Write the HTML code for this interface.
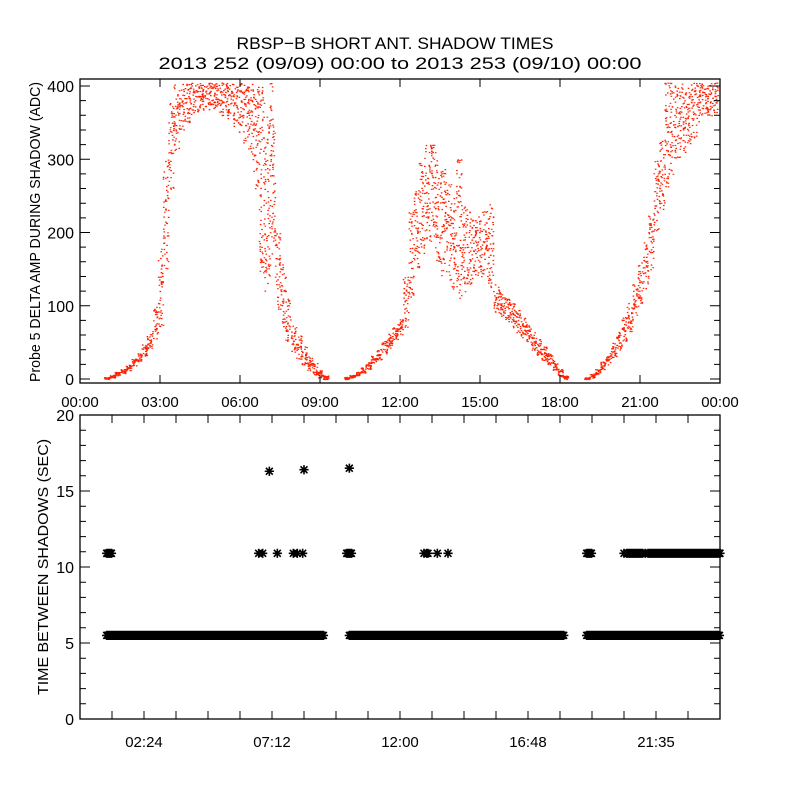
<!DOCTYPE html>
<html><head><meta charset="utf-8"><style>
html,body{margin:0;padding:0;background:#fff;}
svg{display:block;font-family:"Liberation Sans",sans-serif;}
</style></head><body>
<svg id="c" width="800" height="800" viewBox="0 0 800 800">
<rect width="800" height="800" fill="#fff"/>
<text x="395" y="49" font-size="17" text-anchor="middle" textLength="317" lengthAdjust="spacingAndGlyphs">RBSP−B SHORT ANT. SHADOW TIMES</text>
<text x="400" y="69" font-size="17" text-anchor="middle" textLength="483" lengthAdjust="spacingAndGlyphs">2013 252 (09/09) 00:00 to 2013 253 (09/10) 00:00</text>
<text transform="translate(40,232) rotate(-90)" font-size="15" text-anchor="middle" textLength="300" lengthAdjust="spacingAndGlyphs">Probe 5 DELTA AMP DURING SHADOW (ADC)</text>
<text transform="translate(48,567) rotate(-90)" font-size="15" text-anchor="middle" textLength="256" lengthAdjust="spacingAndGlyphs">TIME BETWEEN SHADOWS (SEC)</text>
<g id="topPlot"></g>
<g id="botPlot"></g>
</svg>
<script>
// ---- top chart data (hours, low ADC, high ADC) ----
const topTimes=[1.0,1.2,1.4,1.6,1.8,2.0,2.2,2.4,2.6,2.8,3.0,3.2,3.4,3.6,3.8,4.0,4.2,4.4,4.6,4.8,5.0,5.2,5.4,5.6,5.8,6.0,6.2,6.4,6.6,6.8,7.0,7.2,7.4,7.6,7.8,8.0,8.2,8.4,8.6,8.8,9.0,9.2,
10.0,10.2,10.4,10.6,10.8,11.0,11.2,11.4,11.6,11.8,12.0,12.2,12.4,12.6,12.8,13.0,13.2,13.4,13.6,13.8,14.0,14.2,14.4,14.6,14.8,15.0,15.2,15.4,15.6,15.8,16.0,16.2,16.4,16.6,16.8,17.0,17.2,17.4,17.6,17.8,18.0,18.2,
19.0,19.2,19.4,19.6,19.8,20.0,20.2,20.4,20.6,20.8,21.0,21.2,21.4,21.6,21.8,22.0,22.2,22.4,22.6,22.8,23.0,23.2,23.4,23.6,23.8];
const topLow=[0,2,5,8,12,18,24,32,42,55,70,150,260,310,340,350,360,365,368,368,368,365,360,355,345,335,320,300,260,140,120,150,90,70,50,35,28,20,12,6,2,0,
0,2,5,9,14,20,27,35,43,52,60,70,110,150,170,190,180,160,140,130,120,110,120,130,140,140,140,120,90,85,78,70,62,55,48,40,33,26,20,12,4,0,
0,2,6,12,20,30,40,52,65,80,100,120,150,200,230,260,280,300,310,320,330,350,360,360,360];
const topHigh=[3,6,10,14,20,28,36,48,62,100,180,300,380,405,405,405,405,405,405,405,405,405,405,405,405,405,405,405,405,405,360,405,200,160,110,75,60,45,32,22,12,5,
3,6,10,16,24,32,42,52,62,72,82,140,230,260,300,320,320,310,290,270,250,300,240,230,220,230,230,240,130,120,112,105,95,85,75,65,55,45,36,26,14,5,
3,8,14,24,36,50,65,85,105,130,160,190,230,300,330,405,405,405,405,405,405,405,405,405,405];
const topYTicks=[0,100,200,300,400];
const topXLabels=["00:00","03:00","06:00","09:00","12:00","15:00","18:00","21:00","00:00"];
// ---- bottom chart data ----
const band55Start=[1.0,10.1,19.0];
const band55End=[9.15,18.15,24.0];
const band11Start=[1.0,10.0,19.0,20.5,21.3];
const band11End=[1.2,10.2,19.2,21.1,24.0];
const single11Times=[6.7,6.85,7.4,8.0,8.15,8.35,12.9,13.0,13.05,13.4,13.8,20.4,21.2];
const outlierTimes=[7.1,8.4,10.1];
const outlierValues=[16.3,16.4,16.5];
const botYTicks=[0,5,10,15,20];
const botXLabels=["02:24","07:12","12:00","16:48","21:35"];

const NS="http://www.w3.org/2000/svg";
const L=80,R=720;
const xs=h=>L+h/24*(R-L);
const TT=79,TB=383; const ty=v=>379-v*0.7325;
const BT=415,BB=719; const by=v=>BB-v*(BB-BT)/20;
function mk(tag,attrs,parent){const e=document.createElementNS(NS,tag);for(const k in attrs)e.setAttribute(k,attrs[k]);parent.appendChild(e);return e;}
const topG=document.getElementById('topPlot'),botG=document.getElementById('botPlot');

// top scatter
const dots=mk('g',{fill:'#ff2000'},topG);


let seed=7;function rnd(){seed=(seed*16807)%2147483647;return seed/2147483647;}
let d='';
for(let i=0;i<topTimes.length;i++){
  const lo=topLow[i],hi=topHigh[i];
  const x0=xs(topTimes[i])-2.7;
  const n=Math.round(22+(hi-lo)*0.2);
  for(let k=0;k<n;k++){
    const x=x0+rnd()*5.4;
    const v=lo+rnd()*(hi-lo);
    let y=ty(v); if(y<TT+1)continue;
    d+='M'+x.toFixed(1)+' '+y.toFixed(1)+'h1.6v1.2h-1.6z';
  }
}
const p=mk('path',{d:d},dots);



function axes(g,T,B,yTicks,yfn,minorStep,ymax,ymin,xTickStep,xLabels,xLabelStart,xLabelStep,labY,name){
  const box=mk('rect',{x:L,y:T,width:R-L,height:B-T,fill:'none',stroke:'#000','stroke-width':1.3},g);
  
  
  let td='';
  for(let v=ymin;v<=ymax+1e-9;v+=minorStep){
    const y=yfn(v);const major=yTicks.some(t=>Math.abs(t-v)<1e-6);const len=major?10:6;
    td+=`M${L} ${y}h${len}M${R} ${y}h${-len}`;
  }
  for(let h=0;h<=24+1e-9;h+=xTickStep){const x=xs(h);td+=`M${x} ${B}v-8M${x} ${T}v8`;}
  const tk=mk('path',{d:td,stroke:'#000','stroke-width':1,fill:'none'},g);
  
  
  yTicks.forEach(v=>{const t=mk('text',{x:L-6,y:yfn(v)+6,'font-size':16,'text-anchor':'end'},g);t.textContent=String(v);
    
    });
  xLabels.forEach((s,i)=>{const t=mk('text',{x:xs(xLabelStart+i*xLabelStep),y:labY,'font-size':15,'text-anchor':'middle'},g);t.textContent=s;
    
    });
}
axes(topG,TT,TB,topYTicks,ty,20,400,0,3,topXLabels,0,3,407,'top');

// bottom asterisks
const ast=mk('g',{stroke:'#000','stroke-width':1.6},botG);


let ad='';
function star(h,v){const x=xs(h),y=by(v),r=4.6;ad+=`M${x-r} ${y}h${2*r}M${x} ${y-r}v${2*r}M${x-r*0.75} ${y-r*0.75}l${1.5*r} ${1.5*r}M${x-r*0.75} ${y+r*0.75}l${1.5*r} ${-1.5*r}`;}
function band(s,e,v){for(let h=s;h<=e+1e-9;h+=0.03)star(h,v);}
band55Start.forEach((s,i)=>band(s,band55End[i],5.5));
band11Start.forEach((s,i)=>band(s,band11End[i],10.9));
single11Times.forEach(h=>star(h,10.9));
outlierTimes.forEach((h,i)=>star(h,outlierValues[i]));
mk('path',{d:ad},ast);
axes(botG,BT,BB,botYTicks,by,1,20,0,1.2,botXLabels,2.4,4.8,747,'bottom');
</script>
</body></html>
